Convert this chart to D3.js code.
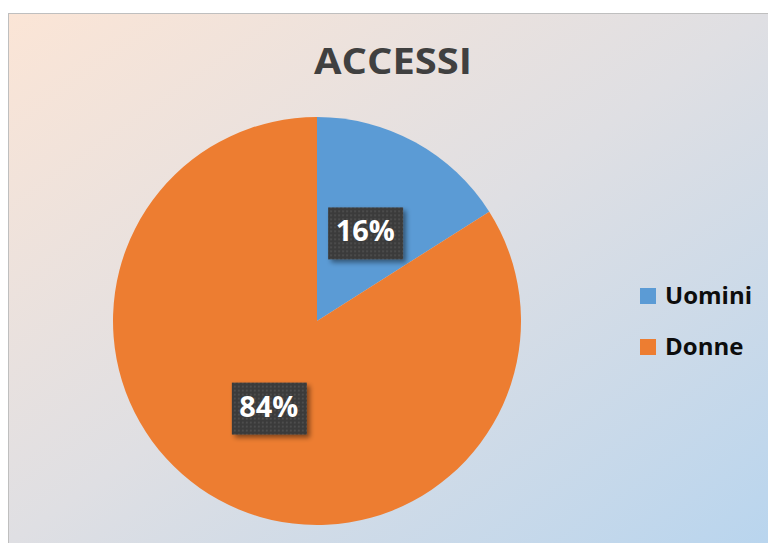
<!DOCTYPE html>
<html lang="it">
<head>
<meta charset="utf-8">
<style>
  body { margin: 0; background: #fff; }
  text { font-family: "Open Sans", Lato, sans-serif; font-weight: bold; }
</style>
<title></title>
</head>
<body>
<script src="https://d3js.org/d3.v7.min.js"></script>
<script>
  const categories = ["Uomini", "Donne"];
  const values = [16, 84];
  const colors = ["#5b9bd5", "#ed7d31"];
  const title = "ACCESSI";

  const width = 768, height = 543;
  const cx = 317, cy = 321, radius = 204;

  const svg = d3.select("body").append("svg")
      .attr("width", width)
      .attr("height", height);

  const defs = svg.append("defs");
  const grad = defs.append("linearGradient")
      .attr("id", "bg")
      .attr("x1", "0%").attr("y1", "0%")
      .attr("x2", "100%").attr("y2", "100%");
  grad.append("stop").attr("offset", "0%").attr("stop-color", "#fbe5d6");
  grad.append("stop").attr("offset", "50%").attr("stop-color", "#dfdfe3");
  grad.append("stop").attr("offset", "100%").attr("stop-color", "#b9d5ee");

  const shadow = defs.append("filter").attr("id", "shadow")
      .attr("x", "-20%").attr("y", "-20%").attr("width", "150%").attr("height", "160%");
  shadow.append("feDropShadow")
      .attr("dx", 3).attr("dy", 3).attr("stdDeviation", 2.5)
      .attr("flood-color", "#000").attr("flood-opacity", 0.45);

  const dots = defs.append("pattern").attr("id", "dots")
      .attr("width", 4).attr("height", 4).attr("patternUnits", "userSpaceOnUse");
  dots.append("rect").attr("width", 4).attr("height", 4).attr("fill", "#3a3a3a");
  dots.append("circle").attr("cx", 2).attr("cy", 2).attr("r", 0.9).attr("fill", "#555");

  svg.append("rect")
      .attr("x", 8.5).attr("y", 13.5)
      .attr("width", width - 8).attr("height", height - 13)
      .attr("fill", "url(#bg)")
      .attr("stroke", "#bfbfbf");

  svg.append("text")
      .attr("x", 314).attr("y", 74)
      .attr("fill", "#404040")
      .attr("font-size", 35)
      .attr("textLength", 158)
      .attr("lengthAdjust", "spacingAndGlyphs")
      .text(title);

  const pie = d3.pie().sort(null).value(d => d);
  const arc = d3.arc().innerRadius(0).outerRadius(radius);
  const labelArc = d3.arc().innerRadius(radius * 0.49).outerRadius(radius * 0.49);
  const total = d3.sum(values);

  const g = svg.append("g").attr("transform", "translate(" + cx + "," + cy + ")");
  const arcs = pie(values);

  g.selectAll("path.slice")
      .data(arcs)
      .enter().append("path")
      .attr("class", "slice")
      .attr("d", arc)
      .attr("fill", (d, i) => colors[i]);

  const labels = g.selectAll("g.lbl")
      .data(arcs)
      .enter().append("g")
      .attr("class", "lbl")
      .attr("transform", d => "translate(" + labelArc.centroid(d) + ")");

  labels.append("rect")
      .attr("x", -37).attr("y", -26)
      .attr("width", 75).attr("height", 52)
      .attr("fill", "url(#dots)")
      .attr("filter", "url(#shadow)");

  labels.append("text")
      .attr("text-anchor", "middle")
      .attr("y", 8)
      .attr("fill", "#fff")
      .attr("font-size", 29)
      .attr("textLength", 59)
      .attr("lengthAdjust", "spacingAndGlyphs")
      .text(d => Math.round(d.data / total * 100) + "%");

  const legend = svg.append("g").attr("transform", "translate(640,288)");
  const item = legend.selectAll("g")
      .data(categories)
      .enter().append("g")
      .attr("transform", (d, i) => "translate(0," + i * 51 + ")");
  item.append("rect")
      .attr("width", 16).attr("height", 16)
      .attr("fill", (d, i) => colors[i]);
  item.append("text")
      .attr("x", 25).attr("y", 16)
      .attr("fill", "#0d0d0d")
      .attr("font-size", 24)
      .text(d => d);
</script>
</body>
</html>
